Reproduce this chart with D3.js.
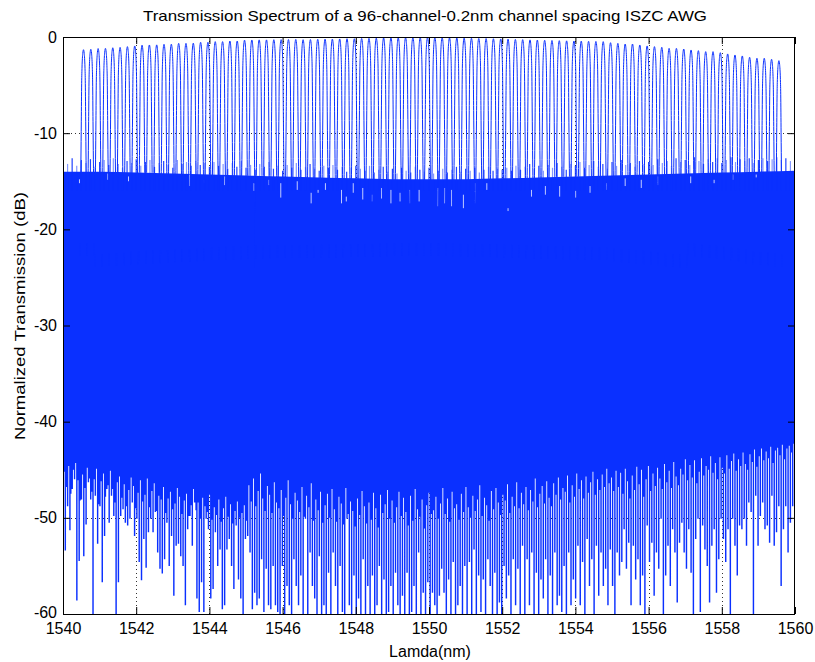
<!DOCTYPE html>
<html>
<head>
<meta charset="utf-8">
<script src="https://cdn.jsdelivr.net/npm/d3@7"></script>
<style>
  html, body { margin: 0; padding: 0; background: #fff; }
  svg text { font-family: "Liberation Sans", Arial, Helvetica, sans-serif; fill: #000; }
</style>
</head>
<body>
<svg id="chart" width="815" height="662"></svg>
<script>
// ---- axis ticks ----
const xTicks = [1540, 1542, 1544, 1546, 1548, 1550, 1552, 1554, 1556, 1558, 1560];
const yTicks = [0, -10, -20, -30, -40, -50, -60];

// ---- 96 AWG channels: centre wavelength (nm) and peak transmission (dB) ----
const channelCenters = [
  1540.56, 1540.76, 1540.96, 1541.16, 1541.36, 1541.56, 1541.76, 1541.96, 1542.16, 1542.36,
  1542.56, 1542.76, 1542.96, 1543.16, 1543.36, 1543.56, 1543.76, 1543.96, 1544.16, 1544.36,
  1544.56, 1544.76, 1544.96, 1545.16, 1545.36, 1545.56, 1545.76, 1545.96, 1546.16, 1546.36,
  1546.56, 1546.76, 1546.96, 1547.16, 1547.36, 1547.56, 1547.76, 1547.96, 1548.16, 1548.36,
  1548.56, 1548.76, 1548.96, 1549.16, 1549.36, 1549.56, 1549.76, 1549.96, 1550.16, 1550.36,
  1550.56, 1550.76, 1550.96, 1551.16, 1551.36, 1551.56, 1551.76, 1551.96, 1552.16, 1552.36,
  1552.56, 1552.76, 1552.96, 1553.16, 1553.36, 1553.56, 1553.76, 1553.96, 1554.16, 1554.36,
  1554.56, 1554.76, 1554.96, 1555.16, 1555.36, 1555.56, 1555.76, 1555.96, 1556.16, 1556.36,
  1556.56, 1556.76, 1556.96, 1557.16, 1557.36, 1557.56, 1557.76, 1557.96, 1558.16, 1558.36,
  1558.56, 1558.76, 1558.96, 1559.16, 1559.36, 1559.56
];
const peakLevels = [
  -1.32, -1.28, -1.20, -1.18, -1.12, -1.08, -1.00, -0.93, -0.85, -0.83,
  -0.82, -0.76, -0.75, -0.66, -0.66, -0.64, -0.55, -0.55, -0.48, -0.48,
  -0.42, -0.42, -0.33, -0.31, -0.30, -0.30, -0.28, -0.27, -0.26, -0.25,
  -0.28, -0.26, -0.24, -0.22, -0.22, -0.20, -0.18, -0.18, -0.15, -0.14,
  -0.12, -0.10, -0.08, -0.08, -0.06, -0.05, -0.05, -0.04, -0.05, -0.06,
  -0.08, -0.10, -0.12, -0.13, -0.15, -0.16, -0.18, -0.20, -0.22, -0.25,
  -0.27, -0.30, -0.32, -0.34, -0.36, -0.38, -0.40, -0.42, -0.43, -0.45,
  -0.46, -0.48, -0.59, -0.66, -0.73, -0.73, -0.83, -0.93, -1.00, -1.07,
  -1.18, -1.18, -1.25, -1.35, -1.42, -1.52, -1.52, -1.63, -1.76, -1.87,
  -1.97, -2.11, -2.21, -2.21, -2.32, -2.46
];

// passband shape of one channel: offset from centre (nm) -> loss below peak (dB)
const passbandOffset = [-0.10, -0.09, -0.08, -0.07, -0.06, -0.05, -0.04, -0.03, -0.02, -0.01, 0,
                         0.01, 0.02, 0.03, 0.04, 0.05, 0.06, 0.07, 0.08, 0.09, 0.10];
const passbandLoss = [-24, -19, -15, -11.5, -7.5, -3.5, -1.8, -0.9, -0.4, -0.1, 0,
                      -0.1, -0.4, -0.9, -1.8, -3.5, -7.5, -11.5, -15, -19, -24];

// ---- crosstalk floor: top of the solid band every 1 nm ----
const envLambda = [1540, 1541, 1542, 1543, 1544, 1545, 1546, 1547, 1548, 1549, 1550,
                   1551, 1552, 1553, 1554, 1555, 1556, 1557, 1558, 1559, 1560];
const floorTop = [-14.0, -14.0, -14.1, -14.2, -14.3, -14.4, -14.5, -14.6, -14.7, -14.8, -14.8,
                  -14.8, -14.7, -14.6, -14.5, -14.4, -14.3, -14.2, -14.1, -14.0, -13.9];

// upper crosstalk peaks, evenly spread over 1540-1560 nm
const topTips = [
  -12.9, -13.2, -12.6, -13.4, -12.8, -13.1, -12.7, -13.5, -13.0, -12.8, -13.3, -12.6, -13.2, -13.6, -12.9, -13.1,
  -12.7, -13.4, -13.0, -12.8, -13.5, -13.1, -12.9, -13.3, -13.6, -12.8, -13.2, -13.0, -13.4, -12.9, -13.3, -13.1, -13.5,
  -13.0, -13.4, -13.2, -13.7, -13.1, -13.5, -12.9, -13.6, -13.3, -13.8, -13.2, -13.5, -13.0, -13.7, -13.4, -13.9,
  -13.3, -13.6, -13.1, -13.8, -13.5, -13.2, -13.7, -13.9, -13.4, -13.6, -13.3, -13.8, -13.5, -14.0, -13.6, -13.4,
  -13.7, -13.9, -13.4, -14.1, -13.8, -13.5, -14.0, -13.7, -14.2, -13.6, -13.9, -14.1, -13.5, -13.8, -14.0, -13.6,
  -14.2, -13.9, -13.7, -14.1, -13.8, -13.5, -14.0, -13.7, -13.9, -13.6, -14.1, -13.8, -13.5, -13.9, -13.7, -13.8,
  -13.6, -13.9, -13.4, -13.8, -13.5, -13.2, -13.7, -13.4, -13.9, -13.3, -13.6, -13.1, -13.5, -13.8, -13.2, -13.4,
  -13.0, -13.6, -13.3, -12.9, -13.5, -13.2, -13.7, -13.0, -13.4, -12.8, -13.3, -13.1, -13.5, -12.9, -13.2, -13.0,
  -13.3, -12.7, -13.1, -12.9, -13.4, -12.6, -13.0, -12.8, -13.3, -12.5, -12.9, -13.2, -12.7, -13.0, -12.6, -13.1,
  -12.8, -12.5, -13.0, -12.7, -12.9, -12.6, -13.1, -12.8, -12.6, -12.9, -12.7, -12.5, -12.8, -12.6, -12.9, -12.7
];

// lower crosstalk dips (deepest point of each spike), evenly spread over 1540-1560 nm
const floorTips = [
  // 1540-1545
  -51.2, -53.4, -48.8, -51.3, -47.0, -46.0, -58.6, -54.5, -48.1, -54.0, -50.7, -46.3, -48.1, -60.5, -47.7, -52.7,
  -48.8, -56.7, -51.9, -47.0, -50.5, -47.7, -49.8, -60.5, -56.7, -49.8, -49.1, -50.5, -50.8, -50.1, -48.4, -51.9,
  -50.1, -54.6, -56.5, -52.2, -55.2, -51.5, -50.1, -51.5, -49.4, -53.6, -55.3, -55.8, -54.3, -50.5, -55.0, -51.9,
  -58.1, -52.9, -52.7, -54.0, -55.0, -59.1, -51.2, -49.8, -52.9, -48.4, -58.4, -59.8, -56.7, -59.8, -50.1, -51.2,
  -58.4, -57.4, -51.5, -55.0, -53.3, -59.5, -59.1, -53.3, -52.2, -55.0, -57.4, -50.8, -56.4, -58.4, -60.5, -52.2, -51.9,
  // 1545-1550
  -53.6, -59.5, -57.8, -59.1, -58.4, -54.3, -59.8, -55.3, -59.1, -59.5, -55.0, -59.1, -59.8, -60.5, -55.0, -60.5,
  -57.1, -59.1, -60.5, -54.3, -57.1, -59.1, -56.0, -60.5, -50.1, -60.5, -53.6, -57.1, -58.4, -60.5, -54.0, -60.5,
  -59.1, -60.5, -55.7, -60.5, -53.6, -57.1, -60.5, -55.0, -59.8, -60.5, -50.1, -59.1, -60.5, -56.0, -60.5, -58.4,
  -60.5, -54.3, -60.5, -57.1, -60.5, -56.0, -60.5, -59.1, -55.0, -60.5, -56.4, -60.5, -59.8, -57.1, -60.5, -55.7,
  -59.1, -60.5, -58.1, -60.5, -55.7, -60.5, -59.8, -57.1, -60.5, -53.6, -60.5, -57.8, -60.5, -56.7, -60.5,
  // 1550-1555
  -57.8, -59.1, -60.5, -58.1, -55.3, -57.8, -60.5, -56.4, -60.5, -54.6, -60.5, -59.1, -57.1, -60.5, -55.0, -60.5,
  -54.6, -60.5, -53.3, -60.5, -56.0, -59.8, -56.4, -60.5, -54.3, -57.1, -60.5, -55.7, -60.5, -58.8, -60.5, -55.0,
  -58.4, -56.0, -60.5, -54.3, -59.1, -55.3, -60.5, -52.9, -60.5, -54.3, -59.1, -53.6, -60.5, -55.7, -60.5, -56.4,
  -58.4, -54.3, -60.5, -56.0, -60.5, -53.6, -59.1, -58.1, -59.8, -55.0, -60.5, -53.6, -59.1, -56.4, -58.4, -52.9,
  -59.1, -54.6, -60.5, -52.2, -57.1, -54.3, -60.5, -52.9, -58.1, -53.6, -57.1, -55.3, -59.1, -53.3, -57.1,
  // 1555-1560
  -60.5, -53.6, -56.0, -54.6, -51.2, -55.3, -52.6, -59.1, -52.9, -56.4, -54.3, -59.1, -56.0, -60.5, -50.8, -54.6,
  -52.6, -58.1, -53.6, -55.3, -50.1, -60.5, -56.0, -52.9, -57.1, -51.2, -53.6, -58.8, -52.6, -50.5, -53.6, -55.3,
  -51.2, -55.7, -60.5, -52.2, -50.1, -59.8, -50.8, -53.3, -55.0, -58.8, -52.9, -51.2, -57.8, -54.3, -50.1, -52.2,
  -54.6, -51.2, -60.5, -50.1, -52.9, -56.0, -50.8, -51.2, -50.1, -52.9, -48.4, -49.4, -60.5, -47.7, -52.9, -49.8,
  -48.4, -51.2, -50.8, -52.6, -47.7, -52.9, -51.5, -48.8, -57.1, -51.2, -48.8, -53.6, -50.5, -48.8, -48.8
];

// level where the white gap between neighbouring dips begins
const floorGaps = [
  // 1540-1545
  -45.2, -46.8, -44.6, -47.5, -45.0, -44.3, -46.1, -48.2, -45.5, -46.9, -44.8, -45.9, -47.3, -46.0, -44.9, -48.6,
  -46.2, -45.4, -47.8, -46.6, -45.1, -47.0, -48.4, -46.3, -45.7, -47.9, -46.5, -48.8, -47.1, -45.8, -46.7, -49.0,
  -47.4, -46.1, -48.3, -47.6, -45.9, -48.9, -47.2, -46.4, -49.3, -47.7, -48.1, -46.8, -49.5, -48.0, -47.3, -49.1,
  -48.5, -46.9, -47.8, -49.6, -48.2, -47.5, -49.8, -48.7, -47.0, -49.2, -48.4, -50.1, -47.9, -48.8, -49.4, -47.6,
  -50.2, -48.9, -49.7, -48.1, -50.4, -49.0, -47.8, -49.9, -48.6, -50.6, -49.3, -48.3, -50.0, -49.5, -48.7, -50.3,
  // 1545-1550
  -46.6, -48.3, -45.9, -48.8, -47.2, -45.4, -48.0, -49.3, -46.7, -47.6, -49.5, -46.3, -48.4, -49.0, -47.1, -49.8,
  -47.9, -46.1, -48.6, -50.1, -47.4, -48.2, -49.4, -46.8, -49.9, -47.7, -48.9, -46.4, -50.3, -48.1, -49.2, -47.3,
  -50.5, -48.7, -47.5, -50.0, -47.0, -49.1, -50.4, -47.8, -48.5, -50.7, -46.9, -49.6, -48.3, -49.3, -50.9, -48.0,
  -49.7, -47.2, -48.8, -50.6, -48.4, -50.2, -47.4, -49.0, -51.0, -47.6, -49.5, -48.6, -47.1, -50.1, -48.2, -50.5,
  -48.9, -47.3, -49.8, -47.9, -49.4, -50.8, -47.7, -50.3, -47.0, -49.1, -49.9, -48.1, -51.1, -48.7, -47.4, -49.6,
  // 1550-1555
  -49.2, -47.8, -50.1, -48.5, -46.9, -49.6, -48.0, -50.4, -47.3, -49.0, -48.6, -50.2, -47.5, -49.4, -46.8, -48.9,
  -50.0, -47.7, -49.3, -48.1, -46.6, -49.8, -47.9, -48.7, -50.3, -47.2, -49.1, -46.9, -48.4, -49.7, -47.6, -48.2,
  -46.5, -49.5, -47.8, -48.8, -46.3, -49.0, -47.4, -48.6, -46.8, -49.2, -47.1, -48.3, -45.9, -48.9, -47.5, -46.7,
  -48.5, -46.2, -47.9, -48.8, -46.4, -47.6, -45.8, -48.1, -46.9, -47.3, -45.6, -48.4, -46.6, -47.8, -45.4, -47.0,
  -46.1, -48.0, -45.7, -47.4, -46.3, -45.2, -47.6, -46.0, -47.1, -45.5, -46.8, -44.9, -46.4, -45.8, -47.2, -45.1,
  // 1555-1560
  -46.8, -45.3, -47.5, -44.9, -46.2, -48.0, -45.6, -47.1, -44.7, -46.5, -45.0, -47.8, -46.0, -44.6, -47.2, -45.4,
  -46.7, -44.8, -45.9, -47.0, -44.4, -46.3, -45.1, -46.9, -44.2, -45.7, -46.6, -44.9, -45.5, -43.9, -46.1, -44.5,
  -45.8, -44.0, -46.4, -45.2, -43.8, -45.6, -44.6, -45.0, -43.6, -45.3, -44.3, -46.0, -43.7, -44.8, -45.4, -43.5,
  -44.9, -44.1, -43.3, -45.1, -43.9, -44.6, -43.2, -44.4, -45.0, -43.4, -44.2, -42.9, -44.7, -43.6, -42.8, -44.0,
  -43.1, -43.8, -42.6, -44.3, -43.0, -42.7, -43.5, -42.4, -43.9, -42.8, -42.5, -43.2, -42.3, -43.0, -42.6, -42.4
];

// narrow gaps just under the top of the crosstalk band
const notchLambda = [1540.45, 1541.22, 1541.79, 1543.46, 1543.84, 1544.42, 1545.22, 1545.63, 1545.95, 1546.40,
                     1546.78, 1546.97, 1547.17, 1547.61, 1547.74, 1547.93, 1548.19, 1548.45, 1548.70, 1548.96,
                     1549.21, 1549.47, 1549.73, 1550.24, 1550.43, 1550.62, 1550.94, 1551.26, 1551.58, 1552.16,
                     1552.80, 1553.18, 1553.57, 1554.01, 1554.40, 1554.85, 1555.36, 1555.80, 1556.25, 1557.15,
                     1557.79, 1558.30, 1558.94];
const notchTop = [-14.8, -14.2, -14.5, -14.3, -14.9, -14.5, -15.2, -14.85, -15.2, -15.0,
                  -16.2, -15.9, -15.2, -15.9, -16.6, -15.2, -15.7, -16.4, -15.7, -15.9,
                  -16.2, -15.9, -15.9, -15.7, -15.7, -15.9, -16.4, -15.2, -15.2, -17.8,
                  -15.9, -15.5, -15.5, -16.0, -15.5, -15.2, -14.7, -14.85, -14.5, -14.5,
                  -14.85, -14.3, -14.3];
const notchBottom = [-15.2, -14.85, -15.0, -15.5, -15.2, -15.4, -16.0, -15.4, -16.7, -15.9,
                     -17.3, -16.2, -15.9, -17.3, -17.1, -16.2, -16.9, -17.1, -16.8, -17.3,
                     -17.1, -17.3, -17.1, -17.6, -17.3, -17.6, -17.8, -17.3, -15.9, -18.1,
                     -16.6, -16.4, -16.6, -16.7, -16.2, -15.9, -15.5, -15.7, -15.4, -15.2,
                     -15.2, -14.85, -14.6];

// ---- drawing ----
const W = 815, H = 662;
const plot = { left: 63, right: 795, top: 37, bottom: 614 };
const BLUE = "#0a30ff";

const svg = d3.select("#chart");
svg.append("rect").attr("width", W).attr("height", H).attr("fill", "#fff");

const x = d3.scaleLinear().domain([1540, 1560]).range([plot.left, plot.right]);
const y = d3.scaleLinear().domain([-60, 0]).range([plot.bottom, plot.top]);

svg.append("defs").append("clipPath").attr("id", "plotClip")
  .append("rect")
  .attr("x", plot.left).attr("y", plot.top)
  .attr("width", plot.right - plot.left).attr("height", plot.bottom - plot.top);

// dotted grid
const grid = svg.append("g").attr("class", "grid");
grid.selectAll("line.gx").data(xTicks.slice(1, -1)).join("line")
  .attr("x1", d => Math.round(x(d)) + 0.5).attr("x2", d => Math.round(x(d)) + 0.5)
  .attr("y1", plot.top).attr("y2", plot.bottom)
  .attr("stroke", "#333").attr("stroke-width", 1).attr("stroke-dasharray", "1,3");
grid.selectAll("line.gy").data(yTicks.slice(1, -1)).join("line")
  .attr("y1", d => Math.round(y(d)) + 0.5).attr("y2", d => Math.round(y(d)) + 0.5)
  .attr("x1", plot.left).attr("x2", plot.right)
  .attr("stroke", "#333").attr("stroke-width", 1).attr("stroke-dasharray", "1,3");

const data = svg.append("g").attr("clip-path", "url(#plotClip)");

// solid crosstalk band (upper part)
data.append("path")
  .datum(envLambda.map((l, i) => ({ l, top: floorTop[i] })))
  .attr("fill", BLUE)
  .attr("d", d3.area().x(d => x(d.l)).y0(y(-41)).y1(d => y(d.top)).curve(d3.curveMonotoneX));

// lower edge: each dip is a thin blue column, separated by white gaps
const tipStep = 20 / (floorTips.length - 1);
const halfCol = x.invert(plot.left + 0.72) - 1540;   // half of a ~1.4 px column, in nm
const edge = [];
floorTips.forEach((t, i) => {
  const c = 1540 + i * tipStep;
  edge.push({ l: c - halfCol, v: t }, { l: c + halfCol, v: t });
  if (i < floorGaps.length && i < floorTips.length - 1) {
    const g = floorGaps[i];
    edge.push({ l: c + halfCol, v: g }, { l: c + tipStep - halfCol, v: g });
  }
});
data.append("path")
  .datum(edge)
  .attr("fill", BLUE)
  .attr("d", d3.area().x(d => x(d.l)).y0(d => y(Math.max(d.v, -61))).y1(y(-40.5)));

// upper peaks of the band
const topStep = 20 / (topTips.length - 1);
data.append("g").selectAll("line").data(topTips).join("line")
  .attr("x1", (d, i) => x(1540 + i * topStep)).attr("x2", (d, i) => x(1540 + i * topStep))
  .attr("y1", y(-16)).attr("y2", d => y(d))
  .attr("stroke", BLUE).attr("stroke-width", 1.2)
  .attr("stroke-opacity", (d, i) => (i % 2 ? 0.5 : 0.9));

// gaps inside the top of the band
data.append("g").selectAll("line").data(notchLambda).join("line")
  .attr("x1", d => x(d)).attr("x2", d => x(d))
  .attr("y1", (d, i) => y(notchTop[i])).attr("y2", (d, i) => y(notchBottom[i]))
  .attr("stroke", "#fff").attr("stroke-width", 1).attr("stroke-opacity", 0.75);

// channel passbands
const channelLine = d3.line().x(d => x(d[0])).y(d => y(d[1])).curve(d3.curveMonotoneX);
data.append("g").selectAll("path").data(channelCenters).join("path")
  .attr("fill", "none").attr("stroke", BLUE).attr("stroke-width", 1)
  .attr("d", (c, i) => channelLine(passbandOffset.map((o, k) => [c + o, peakLevels[i] + passbandLoss[k]])));

// axes (ticks pointing inward, labels on bottom/left)
const axisFont = 16;
const xb = svg.append("g").attr("transform", `translate(0,${plot.bottom})`)
  .call(d3.axisBottom(x).tickValues(xTicks).tickSizeInner(-7).tickSizeOuter(0).tickPadding(9).tickFormat(d3.format("d")));
const xt = svg.append("g").attr("transform", `translate(0,${plot.top})`)
  .call(d3.axisTop(x).tickValues(xTicks).tickSizeInner(-7).tickSizeOuter(0).tickFormat(""));
const yl = svg.append("g").attr("transform", `translate(${plot.left},0)`)
  .call(d3.axisLeft(y).tickValues(yTicks).tickSizeInner(-7).tickSizeOuter(0).tickPadding(6).tickFormat(d3.format("d")));
const yr = svg.append("g").attr("transform", `translate(${plot.right},0)`)
  .call(d3.axisRight(y).tickValues(yTicks).tickSizeInner(-7).tickSizeOuter(0).tickFormat(""));
[xb, xt, yl, yr].forEach(g => {
  g.select(".domain").remove();
  g.selectAll(".tick line").attr("stroke", "#000");
  g.selectAll("text").attr("font-size", axisFont).attr("fill", "#000")
    .attr("font-family", '"Liberation Sans", Arial, sans-serif');
});
yl.selectAll("text").text(d => (d < 0 ? "-" + Math.abs(d) : d));
yl.selectAll(".tick").filter(d => d === -60).select("text").attr("dy", "0.2em");

// axes box
svg.append("rect")
  .attr("x", plot.left + 0.5).attr("y", plot.top + 0.5)
  .attr("width", plot.right - plot.left - 1).attr("height", plot.bottom - plot.top)
  .attr("fill", "none").attr("stroke", "#000").attr("stroke-width", 1);

// titles
svg.append("text").attr("x", (plot.left + plot.right) / 2 - 4).attr("y", 21)
  .attr("text-anchor", "middle").attr("font-size", 15)
  .attr("textLength", 564).attr("lengthAdjust", "spacingAndGlyphs")
  .text("Transmission Spectrum of a 96-channel-0.2nm channel spacing ISZC AWG");
svg.append("text").attr("x", 430).attr("y", 657)
  .attr("text-anchor", "middle").attr("font-size", 16)
  .text("Lamda(nm)");
svg.append("text").attr("transform", "translate(25,316) rotate(-90)")
  .attr("text-anchor", "middle").attr("font-size", 15)
  .attr("textLength", 248).attr("lengthAdjust", "spacingAndGlyphs")
  .text("Normalized Transmission (dB)");
</script>
</body>
</html>
